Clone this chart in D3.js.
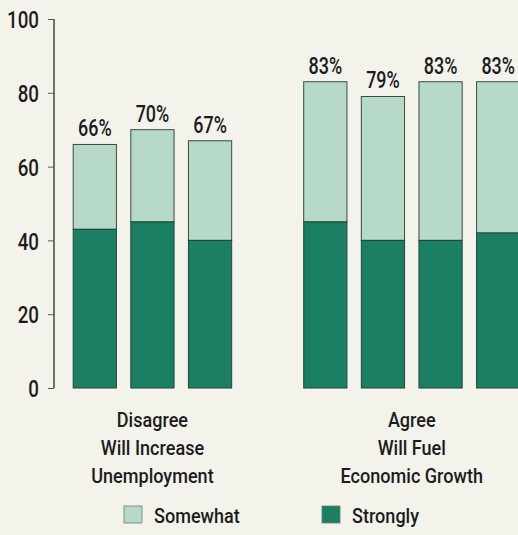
<!DOCTYPE html>
<html lang="en">
<head>
  <meta charset="UTF-8">
  <title>Agree / Disagree</title>
  <script src="https://cdn.jsdelivr.net/npm/d3@7"></script>
  <style>
    html, body {
      margin: 0;
      padding: 0;
      background: #f3f3ec;
    }
    #chart text {
      font-family: "Roboto", "DejaVu Sans Condensed", sans-serif;
      font-weight: 500;
      fill: #1c1c1c;
    }
  </style>
</head>
<body>
  <div id="chart"></div>

  <script>
    // bar slots (empty slot separates the two groups)
    const slots = ['d1', 'd2', 'd3', 'gap', 'a1', 'a2', 'a3', 'a4'];
    const barKeys = ['d1', 'd2', 'd3', 'a1', 'a2', 'a3', 'a4'];
    const strongly = [43, 45, 40, 45, 40, 40, 42];
    const totals = [66, 70, 67, 83, 79, 83, 83];
    const totalLabels = ['66%', '70%', '67%', '83%', '79%', '83%', '83%'];
    const yTicks = [0, 20, 40, 60, 80, 100];

    const groups = [
      { keys: ['d1', 'd2', 'd3'], lines: ['Disagree', 'Will Increase', 'Unemployment'] },
      { keys: ['a1', 'a2', 'a3', 'a4'], lines: ['Agree', 'Will Fuel', 'Economic Growth'] }
    ];
    const legendItems = [
      { label: 'Somewhat', color: '#b6d9ca' },
      { label: 'Strongly', color: '#1b7f63' }
    ];

    const width = 518, height = 535;
    const svg = d3.select('#chart')
      .append('svg')
      .attr('width', width)
      .attr('height', height);

    // the original face is a condensed one, so squeeze text horizontally
    const numSquash = 0.78, wordSquash = 0.86;
    const squeeze = (sel, px, py, s) =>
      sel.attr('transform', `translate(${px},${py}) scale(${s},1)`);

    const x = d3.scaleBand()
      .domain(slots)
      .range([66, 527])
      .paddingInner(0.25)
      .paddingOuter(0.125);

    const y = d3.scaleLinear()
      .domain([0, 100])
      .range([388, 19]);

    const bars = barKeys.map((k, i) => ({
      key: k, strong: strongly[i], total: totals[i], label: totalLabels[i]
    }));

    // y axis
    const yAxis = svg.append('g')
      .attr('transform', 'translate(54,0)')
      .call(d3.axisLeft(y).tickValues(yTicks).tickSize(6).tickPadding(9));
    yAxis.select('.domain').attr('stroke', '#444').attr('stroke-width', 1.5)
      .attr('d', `M0,${y(100)}V${y(0)}`);
    yAxis.selectAll('.tick line').attr('stroke', '#555');
    yAxis.selectAll('.tick text')
      .attr('font-size', 24)
      .attr('x', 0)
      .attr('dy', '0.36em')
      .attr('fill', '#1c1c1c')
      .attr('transform', `translate(-15,0) scale(${numSquash},1)`);

    // somewhat (light) segment: from strongly to total
    svg.selectAll('.somewhat')
      .data(bars)
      .join('rect')
      .attr('class', 'somewhat')
      .attr('x', d => x(d.key))
      .attr('width', x.bandwidth())
      .attr('y', d => y(d.total))
      .attr('height', d => y(d.strong) - y(d.total))
      .attr('fill', legendItems[0].color)
      .attr('stroke', '#3a4a42')
      .attr('stroke-width', 1);

    svg.selectAll('.strongly')
      .data(bars)
      .join('rect')
      .attr('class', 'strongly')
      .attr('x', d => x(d.key))
      .attr('width', x.bandwidth())
      .attr('y', d => y(d.strong))
      .attr('height', d => y(0) - y(d.strong))
      .attr('fill', legendItems[1].color)
      .attr('stroke', '#22453a')
      .attr('stroke-width', 1);

    // total labels
    svg.selectAll('.total-label')
      .data(bars)
      .join('text')
      .attr('class', 'total-label')
      .attr('text-anchor', 'middle')
      .attr('font-size', 23)
      .each(function(d) {
        squeeze(d3.select(this), x(d.key) + x.bandwidth() / 2, y(d.total) - 8, numSquash);
      })
      .text(d => d.label);

    // group labels
    groups.forEach(g => {
      const x0 = x(g.keys[0]);
      const x1 = x(g.keys[g.keys.length - 1]) + x.bandwidth();
      const t = svg.append('text')
        .attr('text-anchor', 'middle')
        .attr('font-size', 21);
      squeeze(t, (x0 + x1) / 2, 427, wordSquash);
      g.lines.forEach((line, i) => {
        t.append('tspan')
          .attr('x', 0)
          .attr('y', i * 28)
          .text(line);
      });
    });

    // legend
    const legendX = [124, 322];
    const legend = svg.selectAll('.legend')
      .data(legendItems)
      .join('g')
      .attr('class', 'legend')
      .attr('transform', (d, i) => `translate(${legendX[i]},506)`);
    legend.append('rect')
      .attr('width', 18)
      .attr('height', 17)
      .attr('fill', d => d.color)
      .attr('stroke', '#6a7a72')
      .attr('stroke-width', 0.8);
    legend.append('text')
      .attr('font-size', 21)
      .each(function() { squeeze(d3.select(this), 30, 17, wordSquash); })
      .text(d => d.label);
  </script>
</body>
</html>
